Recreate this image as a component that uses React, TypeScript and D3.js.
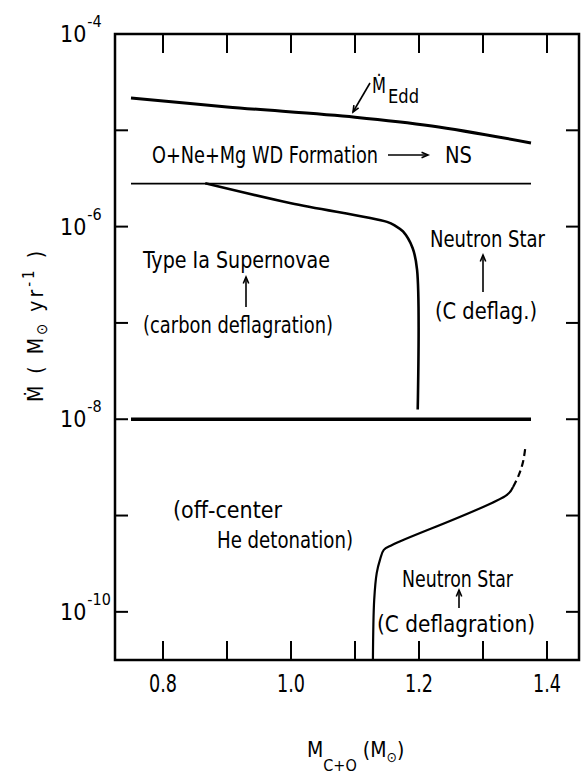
import { useEffect, useRef } from "react";
import * as d3 from "d3";

// Page size and plot frame
const width = 586;
const height = 776;
const margin = { top: 34, right: 7, bottom: 116, left: 115 };

// Axis domains and ticks
const massDomain = [0.725, 1.45];
const rateDomain = [Math.pow(10, -10.5), 1e-4];
const massTicks = [0.8, 0.9, 1.0, 1.1, 1.2, 1.3, 1.4];
const massTickLabels = ["0.8", "1.0", "1.2", "1.4"];
const rateExponents = [-4, -5, -6, -7, -8, -9, -10];
const rateLabelExponents = [-4, -6, -8, -10];

// Eddington accretion rate
const eddMass = [0.75, 0.9, 1.1, 1.22, 1.375];
const eddRate = [2.17e-5, 1.75e-5, 1.37e-5, 1.11e-5, 7.4e-6];

// O+Ne+Mg WD formation boundary and C deflagration boundary
const boundaryMass = [0.75, 1.375];
const oneMgRate = 2.8e-6;
const deflagRate = 1e-8;

// Type Ia (carbon deflagration) boundary
const typeIaMass = [0.866, 1.0, 1.15, 1.163, 1.175, 1.19, 1.197, 1.198];
const typeIaRate = [2.82e-6, 1.75e-6, 1.12e-6, 1.02e-6, 8.9e-7, 6.0e-7, 3.55e-7, 1.26e-8];

// off-center He detonation boundary (solid, then dashed)
const heMass = [1.128, 1.13, 1.134, 1.139, 1.145, 1.158, 1.3375, 1.347];
const heRate = [3.16e-11, 1.33e-10, 2.54e-10, 3.47e-10, 4.4e-10, 4.95e-10, 1.64e-9, 1.98e-9];
const heDashMass = [1.347, 1.356, 1.3625, 1.366];
const heDashRate = [1.98e-9, 2.64e-9, 3.6e-9, 5.0e-9];

const font = "'DejaVu Sans Condensed', 'DejaVu Sans', sans-serif";

const drawChart = (el: SVGSVGElement) => {
    const svg = d3.select(el);
    svg.selectAll("*").remove();

    const x = d3.scaleLinear().domain(massDomain).range([margin.left, width - margin.right]);
    const y = d3.scaleLog().domain(rateDomain).range([height - margin.bottom, margin.top]);
    const x0 = margin.left, x1 = width - margin.right;
    const y0 = height - margin.bottom, y1 = margin.top;

    const zip = (a: number[], b: number[]) => a.map((v, i) => [v, b[i]] as [number, number]);
    const line = d3.line<[number, number]>()
        .x(d => x(d[0]))
        .y(d => y(d[1]))
        .curve(d3.curveCatmullRom.alpha(0.5));

    svg.append("rect").attr("width", width).attr("height", height).attr("fill", "white");

    // frame
    svg.append("rect")
        .attr("x", x0).attr("y", y1)
        .attr("width", x1 - x0).attr("height", y0 - y1)
        .attr("fill", "none").attr("stroke", "black").attr("stroke-width", 2.5);

    // ticks (inward)
    const ticks = svg.append("g").attr("stroke", "black").attr("stroke-width", 2);
    massTicks.forEach(m => {
        ticks.append("line").attr("x1", x(m)).attr("x2", x(m)).attr("y1", y0).attr("y2", y0 - 19);
        ticks.append("line").attr("x1", x(m)).attr("x2", x(m)).attr("y1", y1).attr("y2", y1 + 19);
    });
    rateExponents.forEach(e => {
        const v = y(Math.pow(10, e));
        ticks.append("line").attr("x1", x0).attr("x2", x0 + 13).attr("y1", v).attr("y2", v);
        ticks.append("line").attr("x1", x1).attr("x2", x1 - 13).attr("y1", v).attr("y2", v);
    });

    // tick labels
    svg.append("g")
        .attr("font-family", font).attr("font-size", 25).attr("text-anchor", "middle")
        .selectAll("text")
        .data(massTickLabels)
        .join("text")
        .attr("x", d => x(+d))
        .attr("y", y0 + 32)
        .attr("textLength", 28)
        .attr("lengthAdjust", "spacingAndGlyphs")
        .text(d => d);

    const yl = svg.append("g").attr("font-family", font);
    rateLabelExponents.forEach(e => {
        const v = y(Math.pow(10, e));
        const t = yl.append("text").attr("x", 60).attr("y", v + 8).attr("font-size", 23);
        t.append("tspan").text("10");
        t.append("tspan").attr("font-size", 16).attr("dx", 1).attr("dy", -15).text(`-${-e}`);
    });

    // curves
    svg.append("path").attr("d", line(zip(eddMass, eddRate)))
        .attr("fill", "none").attr("stroke", "black").attr("stroke-width", 3);
    svg.append("path").attr("d", line(boundaryMass.map(m => [m, oneMgRate])))
        .attr("fill", "none").attr("stroke", "black").attr("stroke-width", 1.8);
    svg.append("path").attr("d", line(boundaryMass.map(m => [m, deflagRate])))
        .attr("fill", "none").attr("stroke", "black").attr("stroke-width", 3.5);
    svg.append("path").attr("d", line(zip(typeIaMass, typeIaRate)))
        .attr("fill", "none").attr("stroke", "black").attr("stroke-width", 2.6);
    svg.append("path").attr("d", line(zip(heMass, heRate)))
        .attr("fill", "none").attr("stroke", "black").attr("stroke-width", 2.2);
    svg.append("path").attr("d", line(zip(heDashMass, heDashRate)))
        .attr("fill", "none").attr("stroke", "black").attr("stroke-width", 2.2)
        .attr("stroke-dasharray", "7,4");

    // annotation text
    const notes = svg.append("g").attr("font-family", font).attr("font-size", 23).attr("fill", "black");
    const label = (tx: number, ty: number, len: number, s: string) =>
        notes.append("text").attr("x", tx).attr("y", ty)
            .attr("textLength", len).attr("lengthAdjust", "spacingAndGlyphs").text(s);

    label(152, 163, 226, "O+Ne+Mg WD Formation");
    label(445, 163, 27, "NS");
    label(143, 268, 187, "Type Ia Supernovae");
    label(143, 333, 190, "(carbon deflagration)");
    label(430, 247, 115, "Neutron Star");
    label(435, 319, 102, "(C deflag.)");
    label(173, 518, 109, "(off-center");
    label(217, 548, 136, "He detonation)");
    label(402, 587, 111, "Neutron Star");
    label(377, 632, 158, "(C deflagration)");

    // M_Edd label
    notes.append("text").attr("x", 372).attr("y", 93).attr("font-size", 21)
        .attr("textLength", 14).attr("lengthAdjust", "spacingAndGlyphs").text("Ṁ");
    notes.append("text").attr("x", 388).attr("y", 103).attr("font-size", 19)
        .attr("textLength", 31).attr("lengthAdjust", "spacingAndGlyphs").text("Edd");

    // arrows
    const arrows = svg.append("g").attr("stroke", "black").attr("stroke-width", 1.6).attr("fill", "none");
    const arrow = (ax: number, ay: number, bx: number, by: number) => {
        arrows.append("line").attr("x1", ax).attr("y1", ay).attr("x2", bx).attr("y2", by);
        const a = Math.atan2(by - ay, bx - ax);
        const h = 7, s = 0.4;
        arrows.append("path").attr("d",
            `M${bx - h * Math.cos(a - s)},${by - h * Math.sin(a - s)}L${bx},${by}L${bx - h * Math.cos(a + s)},${by - h * Math.sin(a + s)}`);
    };
    arrow(370, 83, 353, 112);
    arrow(388, 155, 428, 155);
    arrow(246, 307, 246, 277);
    arrow(483, 292, 483, 255);
    arrow(459, 608, 459, 590);

    // axis titles
    const xt = svg.append("text").attr("font-family", font).attr("font-size", 21).attr("y", 757).attr("x", 307);
    xt.append("tspan").text("M");
    xt.append("tspan").attr("font-size", 16).attr("dy", 14).text("C+O");
    xt.append("tspan").attr("dy", -14).text(" (M");
    xt.append("tspan").attr("font-size", 14).attr("dy", 5).text("⊙");
    xt.append("tspan").attr("dy", -5).text(")");

    const yt = svg.append("text").attr("font-family", font).attr("font-size", 21)
        .attr("text-anchor", "middle")
        .attr("letter-spacing", 3)
        .attr("transform", "translate(43,325) rotate(-90)");
    yt.append("tspan").text("Ṁ ( M");
    yt.append("tspan").attr("font-size", 15).attr("dy", 4).text("⊙");
    yt.append("tspan").attr("dy", -4).text(" yr");
    yt.append("tspan").attr("font-size", 15).attr("dy", -9).text("-1");
    yt.append("tspan").attr("dy", 9).text(" )");
};

export default function App() {
    const ref = useRef<SVGSVGElement>(null);
    useEffect(() => {
        if (ref.current) drawChart(ref.current);
    }, []);
    return (
        <svg
            ref={ref}
            width={width}
            height={height}
            style={{ position: "absolute", left: 0, top: 0 }}
        />
    );
}
